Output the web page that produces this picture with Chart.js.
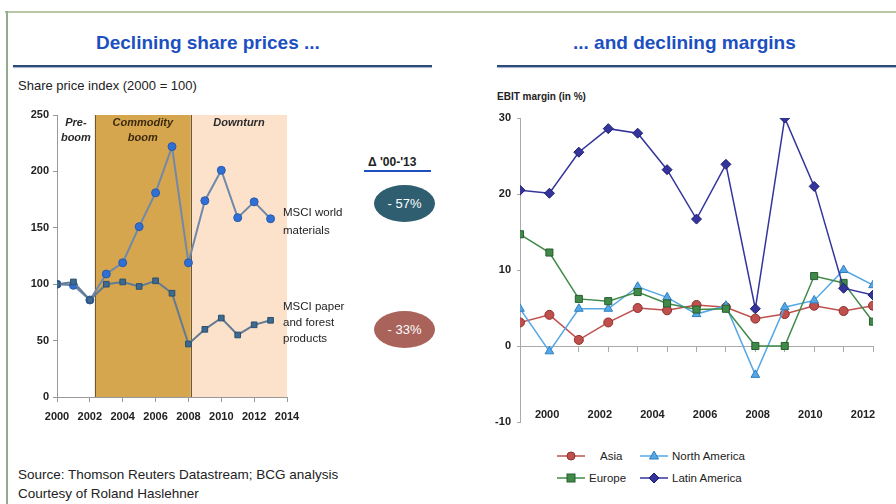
<!DOCTYPE html>
<html lang="en">
<head>
<meta charset="UTF-8">
<title>Declining share prices and margins</title>
<script src="https://cdn.jsdelivr.net/npm/chart.js"></script>
<style>
  body { margin: 0; width: 896px; height: 504px; background: #fff; position: relative; overflow: hidden;
         font-family: "Liberation Sans", Arial, sans-serif; color: #222; }
  .abs { position: absolute; }
  .title { color: #1c4fbf; font-weight: bold; font-size: 19px; top: 32px; white-space: nowrap; }
  .rule { height: 2px; background: #2d4b78; box-shadow: 0 1px 1px #9fb0c8; top: 65px; }
  .note { font-size: 11.5px; line-height: 16px; }
  .badge { width: 61px; height: 37px; border-radius: 50%; color: #fff; font-size: 13px;
           text-align: center; line-height: 37px; }
  .leg { font-size: 11.5px; display: flex; align-items: center; white-space: nowrap; }
  .leg svg { margin-right: 3px; }
</style>
</head>
<body>

<div class="abs" style="left:5px;top:11px;width:891px;height:2px;background:#b9c6a6"></div>
<div class="abs" style="left:6px;top:11px;width:2px;height:493px;background:#93ab8d"></div>

<div class="abs title" style="left:96px">Declining share prices ...</div>
<div class="abs title" style="left:573px">... and declining margins</div>
<div class="abs rule" style="left:13px;width:419px"></div>
<div class="abs rule" style="left:497px;width:399px"></div>

<div class="abs" style="left:18px;top:78px;font-size:13px">Share price index (2000 = 100)</div>
<div class="abs" style="left:497px;top:91px;font-size:10px;font-weight:bold">EBIT margin (in %)</div>

<canvas id="shareChart" class="abs" style="left:0;top:100px" width="310" height="335"></canvas>
<canvas id="marginChart" class="abs" style="left:480px;top:100px" width="410" height="335"></canvas>

<div class="abs" style="left:368px;top:155px;font-size:12px;font-weight:bold">&Delta; '00-'13</div>
<div class="abs" style="left:364px;top:170px;width:67px;height:2px;background:#1c4fbf"></div>
<div class="abs note" style="left:283px;top:203px;line-height:18px">MSCI world<br>materials</div>
<div class="abs note" style="left:283px;top:298px">MSCI paper<br>and forest<br>products</div>
<div class="abs badge" style="left:374px;top:185px;background:#2e5e6f">- 57%</div>
<div class="abs badge" style="left:374px;top:311px;background:#a9635b">- 33%</div>

<div id="legend"></div>

<div class="abs" style="left:18px;top:465px;font-size:13.5px;line-height:19px">Source: Thomson Reuters Datastream; BCG analysis<br>Courtesy of Roland Haslehner</div>

<script>
  // left chart: share price index
  const shareYears = [2000, 2001, 2002, 2003, 2004, 2005, 2006, 2007, 2008, 2009, 2010, 2011, 2012, 2013];
  const materials = [100, 99, 86, 109, 119, 151, 181, 222, 119, 174, 201, 159, 173, 158];
  const paper = [100, 102, 86, 100, 102, 98, 103, 92, 47, 60, 70, 55, 64, 68];
  const phaseNames = [['Pre-', 'boom'], ['Commodity', 'boom'], ['Downturn']];
  const phaseStart = [2000, 2002.3, 2008.15];
  const phaseEnd = [2002.3, 2008.15, 2014];
  const phaseFill = ['rgba(0,0,0,0)', '#d6a64f', '#fde2cb'];
  const shareTicks = [0, 50, 100, 150, 200, 250];

  // right chart: EBIT margin
  const marginYears = [2000, 2001, 2002, 2003, 2004, 2005, 2006, 2007, 2008, 2009, 2010, 2011, 2012];
  const regions = ['Asia', 'North America', 'Europe', 'Latin America'];
  const asia = [3.1, 4.1, 0.8, 3.1, 5.0, 4.7, 5.4, 5.1, 3.6, 4.2, 5.3, 4.6, 5.3];
  const northAmerica = [4.9, -0.7, 4.9, 4.9, 7.8, 6.4, 4.2, 5.3, -3.8, 5.1, 6.0, 10.0, 8.0];
  const europe = [14.7, 12.3, 6.2, 5.9, 7.1, 5.6, 4.8, 4.9, 0, 0, 9.2, 8.3, 3.2];
  const latinAmerica = [20.5, 20.1, 25.5, 28.6, 28.0, 23.2, 16.7, 23.9, 4.9, 30.0, 21.0, 7.6, 6.7];
  const marginLabels = [2000, 2002, 2004, 2006, 2008, 2010, 2012];

  const regionColor = ['#c0504d', '#55a7e6', '#3f8a48', '#34349c'];
  const regionBorder = ['#8c2e2a', '#2f7fc0', '#2a5e30', '#1c1c6c'];
  const regionMarker = ['circle', 'triangle', 'rect', 'rectRot'];

  Chart.defaults.font.family = '"Liberation Sans", Arial, sans-serif';
  Chart.defaults.color = '#222';

  const pairs = (xs, ys) => xs.map((x, i) => ({ x: x, y: ys[i] }));

  const phaseBands = {
    id: 'phaseBands',
    beforeDatasetsDraw(chart) {
      const { ctx, scales: { x, y } } = chart;
      const top = y.getPixelForValue(250), bottom = y.getPixelForValue(0);
      ctx.save();
      phaseStart.forEach((s, i) => {
        const l = x.getPixelForValue(s), r = x.getPixelForValue(phaseEnd[i]);
        ctx.fillStyle = phaseFill[i];
        ctx.fillRect(l, top, r - l, bottom - top);
        ctx.fillStyle = i === 1 ? '#3b2a0e' : '#2a2a2a';
        ctx.font = 'italic bold 11px "Liberation Sans", Arial, sans-serif';
        ctx.textAlign = 'center';
        ctx.textBaseline = 'middle';
        phaseNames[i].forEach((t, k) => ctx.fillText(t, (l + r) / 2, top + 8 + k * 15));
      });
      ctx.strokeStyle = '#6a5a3c';
      ctx.lineWidth = 1;
      [phaseStart[1], phaseEnd[1]].forEach(v => {
        const px = Math.round(x.getPixelForValue(v)) + 0.5;
        ctx.beginPath(); ctx.moveTo(px, top); ctx.lineTo(px, bottom); ctx.stroke();
      });
      ctx.restore();
    }
  };

  new Chart(document.getElementById('shareChart'), {
    type: 'line',
    data: {
      datasets: [
        {
          label: 'MSCI paper and forest products',
          data: pairs(shareYears, paper),
          borderColor: '#627b93',
          borderWidth: 2,
          pointStyle: 'rect',
          pointRadius: 4,
          pointBackgroundColor: '#3c6a90',
          pointBorderColor: '#2c4f6e',
          pointBorderWidth: 1
        },
        {
          label: 'MSCI world materials',
          data: pairs(shareYears, materials),
          borderColor: '#7089a8',
          borderWidth: 2,
          pointRadius: 4,
          pointBackgroundColor: '#2f6fd6',
          pointBorderColor: '#2c5aa8',
          pointBorderWidth: 1
        }
      ]
    },
    options: {
      responsive: false,
      animation: false,
      layout: { padding: { top: 15, right: 23, left: 0, bottom: 0 } },
      plugins: { legend: { display: false }, tooltip: { enabled: false } },
      scales: {
        x: {
          type: 'linear',
          min: 2000, max: 2014,
          afterFit: s => { s.height = 38; },
          ticks: { stepSize: 2, padding: 8, font: { size: 11, weight: 'bold' }, callback: v => String(v) },
          grid: { drawOnChartArea: false, tickLength: 5, color: '#999' },
          border: { color: '#999' }
        },
        y: {
          min: 0, max: 250,
          afterFit: s => { s.width = 57; },
          afterBuildTicks: s => { s.ticks = shareTicks.map(v => ({ value: v })); },
          ticks: { padding: 4, font: { size: 11, weight: 'bold' } },
          grid: { drawOnChartArea: false, tickLength: 4, color: '#999' },
          border: { color: '#999' }
        }
      }
    },
    plugins: [phaseBands]
  });

  const marginSeries = [asia, northAmerica, europe, latinAmerica];

  new Chart(document.getElementById('marginChart'), {
    type: 'line',
    data: {
      datasets: regions.map((name, i) => ({
        label: name,
        data: pairs(marginYears, marginSeries[i]),
        borderColor: regionColor[i],
        borderWidth: 1.5,
        pointStyle: regionMarker[i],
        pointRadius: regionMarker[i] === 'circle' ? 4.5 : 5,
        pointBackgroundColor: regionColor[i],
        pointBorderColor: regionBorder[i],
        pointBorderWidth: 1,
        order: 3 - i
      }))
    },
    options: {
      responsive: false,
      animation: false,
      layout: { padding: { top: 18, right: 17, left: 0, bottom: 0 } },
      plugins: { legend: { display: false }, tooltip: { enabled: false } },
      scales: {
        x: {
          type: 'linear',
          min: 2000, max: 2012,
          position: { y: 0 },
          ticks: { display: false, stepSize: 1 },
          grid: { drawOnChartArea: false, tickLength: 5, color: '#aaa' },
          border: { color: '#aaa' }
        },
        x2: {
          type: 'linear',
          axis: 'x',
          display: true,
          position: 'bottom',
          min: 1998.97, max: 2012.38,
          afterFit: s => { s.height = 13; },
          afterBuildTicks: s => { s.ticks = marginLabels.map(v => ({ value: v })); },
          ticks: { mirror: true, padding: 0, autoSkip: false, maxRotation: 0, font: { size: 11, weight: 'bold' }, callback: v => String(v) },
          grid: { display: false, drawTicks: false },
          border: { display: false }
        },
        y: {
          min: -10, max: 30,
          afterFit: s => { s.width = 40; },
          ticks: { stepSize: 10, padding: 6, font: { size: 11, weight: 'bold' } },
          grid: { drawOnChartArea: false, tickLength: 3, color: '#aaa' },
          border: { color: '#aaa' }
        }
      }
    }
  });

  // legend, two rows like the original
  const legendSpots = [[557, 449], [640, 449], [557, 471], [640, 471]];
  const markerSvg = (i) => {
    const c = regionColor[i], b = regionBorder[i];
    if (regionMarker[i] === 'circle') return `<circle cx="14" cy="7" r="4" fill="${c}" stroke="${b}"/>`;
    if (regionMarker[i] === 'triangle') return `<polygon points="14,2 18.5,10 9.5,10" fill="${c}" stroke="${b}"/>`;
    if (regionMarker[i] === 'rect') return `<rect x="10" y="3" width="8" height="8" fill="${c}" stroke="${b}"/>`;
    return `<polygon points="14,2 19,7 14,12 9,7" fill="${c}" stroke="${b}"/>`;
  };
  const legend = document.getElementById('legend');
  regions.forEach((name, i) => {
    const d = document.createElement('div');
    d.className = 'abs leg';
    d.style.left = legendSpots[i][0] + 'px';
    d.style.top = legendSpots[i][1] + 'px';
    d.innerHTML = `<svg width="28" height="14"><line x1="0" y1="7" x2="28" y2="7" stroke="${regionColor[i]}" stroke-width="1.5"/>${markerSvg(i)}</svg><span style="margin-left:${i === 0 ? 12 : 1}px">${name}</span>`;
    legend.appendChild(d);
  });
</script>

</body>
</html>
